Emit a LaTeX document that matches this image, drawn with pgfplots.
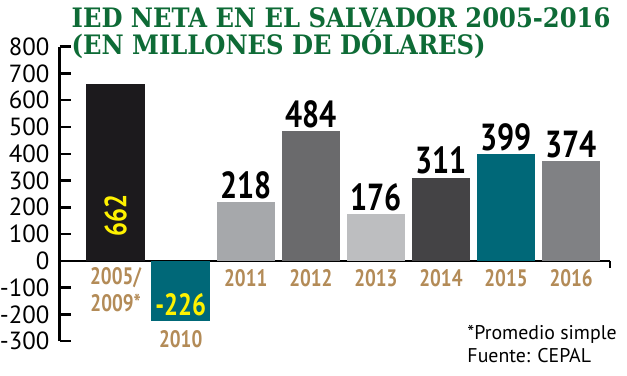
\documentclass[border=0pt]{standalone}
\usepackage{fontspec}
\usepackage{pgfplots}
\pgfplotsset{compat=1.18}
\setmainfont{PT Sans}
\newfontfamily\condfont[FakeStretch=0.8]{PT Sans}
\newfontfamily\titlefont[FakeStretch=0.905]{DejaVu Serif}
\definecolor{cA}{HTML}{1C1A1D}
\definecolor{cTeal}{HTML}{006878}
\definecolor{cB}{HTML}{A6A8AB}
\definecolor{cC}{HTML}{6A6A6C}
\definecolor{cD}{HTML}{BDBEC0}
\definecolor{cE}{HTML}{444345}
\definecolor{cF}{HTML}{808184}
\definecolor{tgreen}{HTML}{0E6B36}
\definecolor{tan}{HTML}{B38B57}
\definecolor{yel}{HTML}{FFF200}
\begin{document}
\begin{tikzpicture}
\begin{axis}[
  at={(0pt,0pt)}, anchor=south west,
  scale only axis, width=555pt, height=297pt,
  xmin=-0.862, xmax=7.60, ymin=-300, ymax=800,
  clip=false,
  axis y line*=left, axis x line*=middle,
  axis line style={line width=2.5pt, black, -},
  xtick=\empty,
  ytick={-300,-200,...,800},
  tick align=inside, ytick pos=left,
  major tick length=11pt,
  tick style={line width=2.5pt, black},
  /pgf/number format/assume math mode=true,
  yticklabel style={font=\fontsize{25}{25}\selectfont, anchor=east, inner sep=0pt, xshift=-10pt},
  nodes near coords style={font=\condfont\bfseries\fontsize{38}{38}\selectfont, inner sep=0pt, anchor=south, yshift=3pt, text=black},
]
\addplot[ybar, bar width=0.9, fill=cA, draw=none] coordinates {(0,662)};
\addplot[ybar, bar width=0.9, fill=cTeal, draw=none] coordinates {(1,-226)};
\addplot[ybar, bar width=0.9, fill=cB, draw=none, nodes near coords] coordinates {(2,218)};
\addplot[ybar, bar width=0.9, fill=cC, draw=none, nodes near coords] coordinates {(3,484)};
\addplot[ybar, bar width=0.9, fill=cD, draw=none, nodes near coords] coordinates {(4,176)};
\addplot[ybar, bar width=0.9, fill=cE, draw=none, nodes near coords] coordinates {(5,311)};
\addplot[ybar, bar width=0.9, fill=cTeal, draw=none, nodes near coords] coordinates {(6,399)};
\addplot[ybar, bar width=0.9, fill=cF, draw=none, nodes near coords] coordinates {(7,374)};
\draw[line width=2.5pt] (axis cs:7.60,0) -- (axis cs:7.60,-28);
\node[rotate=90, text=yel, font=\condfont\bfseries\fontsize{31}{31}\selectfont, inner sep=0pt] at (axis cs:0,170) {662};
\node[text=yel, font=\condfont\bfseries\fontsize{31}{31}\selectfont, inner sep=0pt] at (axis cs:1,-163) {-226};
\begin{scope}[every node/.style={text=tan, font=\condfont\bfseries\fontsize{24}{24}\selectfont, inner sep=0pt}]
\node at (axis cs:0,-64) {2005/};
\node at (axis cs:0,-156) {2009*};
\node at (axis cs:1,-293) {2010};
\node at (axis cs:2,-64) {2011};
\node at (axis cs:3,-64) {2012};
\node at (axis cs:4,-64) {2013};
\node at (axis cs:5,-64) {2014};
\node at (axis cs:6,-64) {2015};
\node at (axis cs:7,-64) {2016};
\end{scope}
\end{axis}
\node[anchor=base west, inner sep=0pt, text=tgreen, font=\titlefont\bfseries\fontsize{27}{27}\selectfont] at (12pt,316pt) {IED NETA EN EL SALVADOR 2005-2016};
\node[anchor=base west, inner sep=0pt, text=tgreen, font=\titlefont\bfseries\fontsize{27}{27}\selectfont] at (12pt,289pt) {(EN MILLONES DE DÓLARES)};
\node[anchor=base west, inner sep=0pt, font=\fontsize{20}{20}\selectfont] at (411pt,2pt) {*Promedio simple};
\node[anchor=base west, inner sep=0pt, font=\fontsize{20}{20}\selectfont] at (411pt,-21pt) {Fuente: CEPAL};
\path[use as bounding box] (-55pt,-35pt) rectangle (572pt,344pt);
\end{tikzpicture}
\end{document}
